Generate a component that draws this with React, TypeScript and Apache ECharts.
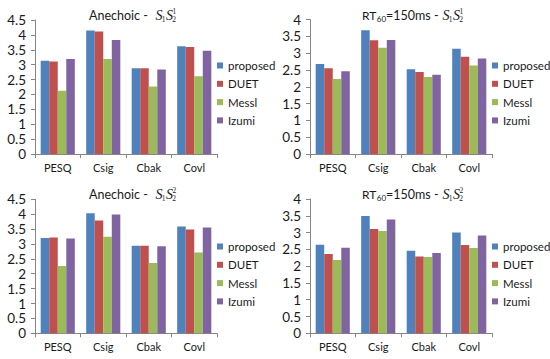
import React, { useEffect, useRef } from "react";
import * as echarts from "echarts";

const categories = ["PESQ", "Csig", "Cbak", "Covl"];
const methods = ["proposed", "DUET", "Messl", "Izumi"];
const colors = ["#4F81BD", "#C0504D", "#9BBB59", "#8064A2"];

// Panel 1: Anechoic - S1S2^1
const anechoic1_proposed = [3.13, 4.15, 2.88, 3.62];
const anechoic1_duet = [3.11, 4.11, 2.88, 3.59];
const anechoic1_messl = [2.12, 3.19, 2.27, 2.61];
const anechoic1_izumi = [3.19, 3.83, 2.84, 3.47];

// Panel 2: RT60=150ms - S1S2^1
const rt1_proposed = [2.68, 3.68, 2.52, 3.13];
const rt1_duet = [2.55, 3.38, 2.44, 2.89];
const rt1_messl = [2.23, 3.16, 2.29, 2.63];
const rt1_izumi = [2.46, 3.39, 2.36, 2.84];

// Panel 3: Anechoic - S1S2^2
const anechoic2_proposed = [3.2, 4.03, 2.94, 3.59];
const anechoic2_duet = [3.22, 3.79, 2.94, 3.49];
const anechoic2_messl = [2.26, 3.24, 2.36, 2.71];
const anechoic2_izumi = [3.18, 3.99, 2.92, 3.55];

// Panel 4: RT60=150ms - S1S2^2
const rt2_proposed = [2.64, 3.49, 2.46, 3.0];
const rt2_duet = [2.36, 3.11, 2.29, 2.63];
const rt2_messl = [2.18, 3.05, 2.27, 2.54];
const rt2_izumi = [2.55, 3.39, 2.39, 2.91];

const panelData = [
  [anechoic1_proposed, anechoic1_duet, anechoic1_messl, anechoic1_izumi],
  [rt1_proposed, rt1_duet, rt1_messl, rt1_izumi],
  [anechoic2_proposed, anechoic2_duet, anechoic2_messl, anechoic2_izumi],
  [rt2_proposed, rt2_duet, rt2_messl, rt2_izumi],
];
const yMax = [4.5, 4, 4.5, 4];

const FONT = "Lato, 'Noto Sans', sans-serif";
const TXT = "#1a1a1a";

const grids = [
  { left: 35, top: 20, width: 182, height: 134 },
  { left: 310, top: 19.5, width: 182, height: 134.5 },
  { left: 35, top: 199.3, width: 182, height: 134 },
  { left: 310, top: 199, width: 182, height: 134.3 },
];

function txt(
  x: number,
  y: number,
  text: string,
  size: number,
  italic = false,
  serif = false,
  align = "left"
) {
  return {
    type: "text",
    x,
    y,
    style: {
      text,
      fill: TXT,
      fontSize: size,
      fontFamily: serif ? "'Liberation Serif', 'DejaVu Serif', serif" : FONT,
      fontStyle: italic ? "italic" : "normal",
      align,
      verticalAlign: "middle",
    },
  };
}

function sPart(x: number, y: number, sup: string) {
  return [
    txt(x, y, "S", 14, true, true),
    txt(x + 6.2, y + 4, "1", 7.5, false, true),
    txt(x + 10.5, y, "S", 14, true, true),
    txt(x + 16.7, y + 4, "2", 7.5, false, true),
    txt(x + 16.9, y - 4, sup, 7.5, false, true),
  ];
}

function anechoicTitle(y: number, sup: string) {
  return [txt(89, y, "Anechoic -", 12.5), ...sPart(155.5, y, sup)];
}

function rtTitle(y: number, sup: string) {
  return [
    txt(376.3, y, "RT", 12, false, false, "right"),
    txt(376.8, y + 3.5, "60", 8),
    txt(386, y, "=150ms -", 12.5),
    ...sPart(442.5, y, sup),
  ];
}

export default function App() {
  const ref = useRef<HTMLDivElement>(null);
  useEffect(() => {
    if (!ref.current) return;
    const chart = echarts.init(ref.current, null, { renderer: "svg" });
    const series: any[] = [];
    panelData.forEach((sets, p) => {
      sets.forEach((vals, m) => {
        series.push({
          type: "bar",
          name: methods[m],
          xAxisIndex: p,
          yAxisIndex: p,
          data: vals,
          barGap: "0%",
          barCategoryGap: "25%",
          itemStyle: { color: colors[m] },
        });
      });
    });
    const legends = [
      { left: 217, top: 59 },
      { left: 492, top: 59 },
      { left: 217, top: 240 },
      { left: 492, top: 240 },
    ].map((pos) => ({
      ...pos,
      orient: "vertical",
      data: methods,
      icon: "rect",
      itemWidth: 6,
      itemHeight: 6,
      itemGap: 5.3,
      padding: 0,
      selectedMode: false,
      textStyle: { color: TXT, fontSize: 11.5, fontFamily: FONT, lineHeight: 13 },
    }));
    chart.setOption({
      animation: false,
      backgroundColor: "#ffffff",
      grid: grids,
      legend: legends,
      xAxis: grids.map((_, i) => ({
        type: "category",
        gridIndex: i,
        data: categories,
        axisLine: { lineStyle: { color: "#868686", width: 1 } },
        axisTick: { show: true, length: 4, lineStyle: { color: "#868686" } },
        axisLabel: { color: TXT, fontSize: 11, fontFamily: FONT, margin: 8 },
      })),
      yAxis: grids.map((_, i) => ({
        type: "value",
        gridIndex: i,
        min: 0,
        max: yMax[i],
        interval: 0.5,
        axisLine: { show: true, lineStyle: { color: "#868686", width: 1 } },
        axisTick: { show: true, length: 4, lineStyle: { color: "#868686" } },
        splitLine: { show: false },
        axisLabel: { color: TXT, fontSize: 13.5, fontFamily: FONT, margin: 9 },
      })),
      series,
      graphic: [
        ...anechoicTitle(15.5, "1"),
        ...rtTitle(15.5, "1"),
        ...anechoicTitle(194.5, "2"),
        ...rtTitle(194.5, "2"),
      ],
    });
    return () => chart.dispose();
  }, []);
  return (
    <div
      ref={ref}
      style={{ position: "fixed", left: 0, top: 0, width: 550, height: 359, background: "#fff" }}
    />
  );
}
